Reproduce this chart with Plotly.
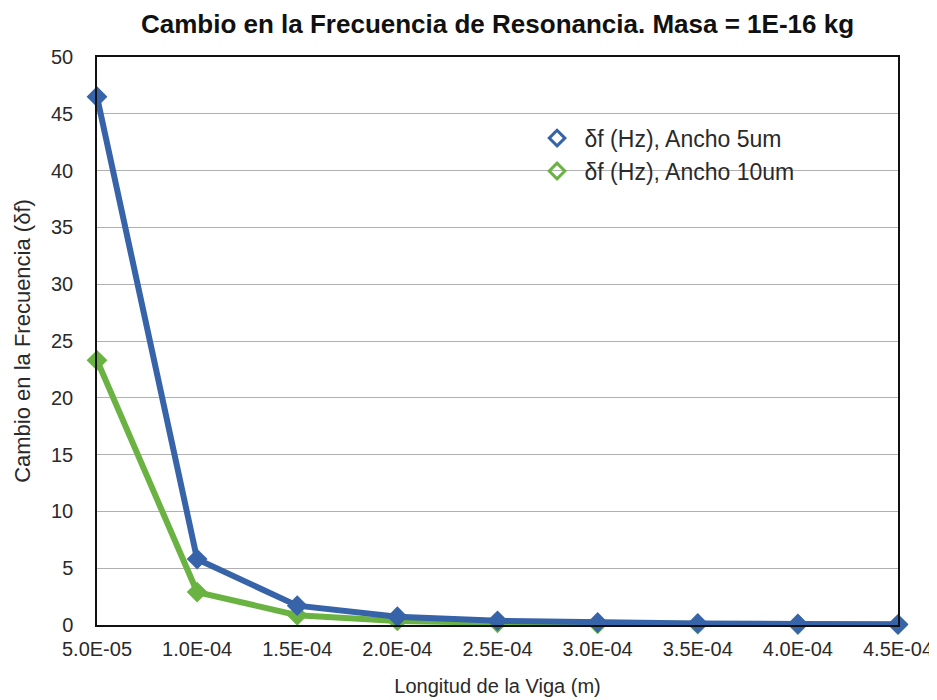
import plotly.graph_objects as go

longitud = [5.0e-5, 1.0e-4, 1.5e-4, 2.0e-4, 2.5e-4, 3.0e-4, 3.5e-4, 4.0e-4, 4.5e-4]
x_labels = ["5.0E-05", "1.0E-04", "1.5E-04", "2.0E-04", "2.5E-04",
            "3.0E-04", "3.5E-04", "4.0E-04", "4.5E-04"]
df_5um = [46.5, 5.8, 1.7, 0.73, 0.37, 0.22, 0.14, 0.09, 0.06]
df_10um = [23.3, 2.9, 0.86, 0.36, 0.19, 0.11, 0.07, 0.045, 0.03]
series_names = ["δf (Hz), Ancho 5um", "δf (Hz), Ancho 10um"]

font = "Liberation Sans, Arial, sans-serif"
blue = "#3763a9"
green = "#6ab343"

fig = go.Figure()
fig.add_trace(go.Scatter(
    x=longitud, y=df_10um, mode="lines+markers", showlegend=False,
    line=dict(color=green, width=6),
    marker=dict(symbol="diamond", size=16, color=green),
    cliponaxis=False,
))
fig.add_trace(go.Scatter(
    x=longitud, y=df_5um, mode="lines+markers", showlegend=False,
    line=dict(color=blue, width=6),
    marker=dict(symbol="diamond", size=16, color=blue),
    cliponaxis=False,
))
# legend entries with open diamonds, as in the original
for name, col in zip(series_names, [blue, green]):
    fig.add_trace(go.Scatter(
        x=[None], y=[None], mode="markers", name=name,
        marker=dict(symbol="diamond-open", size=12, color=col,
                    line=dict(width=3, color=col)),
    ))

# page body adds an 8px offset, so margins are shifted by that
fig.update_layout(
    width=937, height=700,
    paper_bgcolor="white", plot_bgcolor="white",
    font=dict(family=font, size=20, color="#2a2a2a"),
    margin=dict(l=89, r=45, t=49, b=83),
    title=dict(text="<b>Cambio en la Frecuencia de Resonancia. Masa = 1E-16 kg</b>",
               x=0.5, xref="paper", xanchor="center", y=0.978, yanchor="middle",
               font=dict(size=26, color="#111")),
    xaxis=dict(
        range=[5.0e-5, 4.5e-4], tickvals=longitud, ticktext=x_labels,
        showgrid=False, zeroline=False,
        showline=True, linecolor="#111", linewidth=1.5, mirror=True,
        ticks="", tickfont=dict(size=20), ticklabelstandoff=5,
        title=dict(text="Longitud de la Viga (m)", font=dict(size=20), standoff=20),
    ),
    yaxis=dict(
        range=[0, 50], dtick=5,
        showgrid=True, gridcolor="#b0b0b0", gridwidth=1.2, zeroline=False,
        showline=True, linecolor="#111", linewidth=1.5, mirror=True,
        ticks="", tickfont=dict(size=20), ticklabelstandoff=18,
        title=dict(text="Cambio en la Frecuencia (δf)", font=dict(size=22), standoff=14),
    ),
    legend=dict(
        x=0.54, y=0.895, xanchor="left", yanchor="top",
        bgcolor="rgba(0,0,0,0)", itemwidth=45,
        font=dict(size=23),
    ),
)

fig.write_html("out.html")
